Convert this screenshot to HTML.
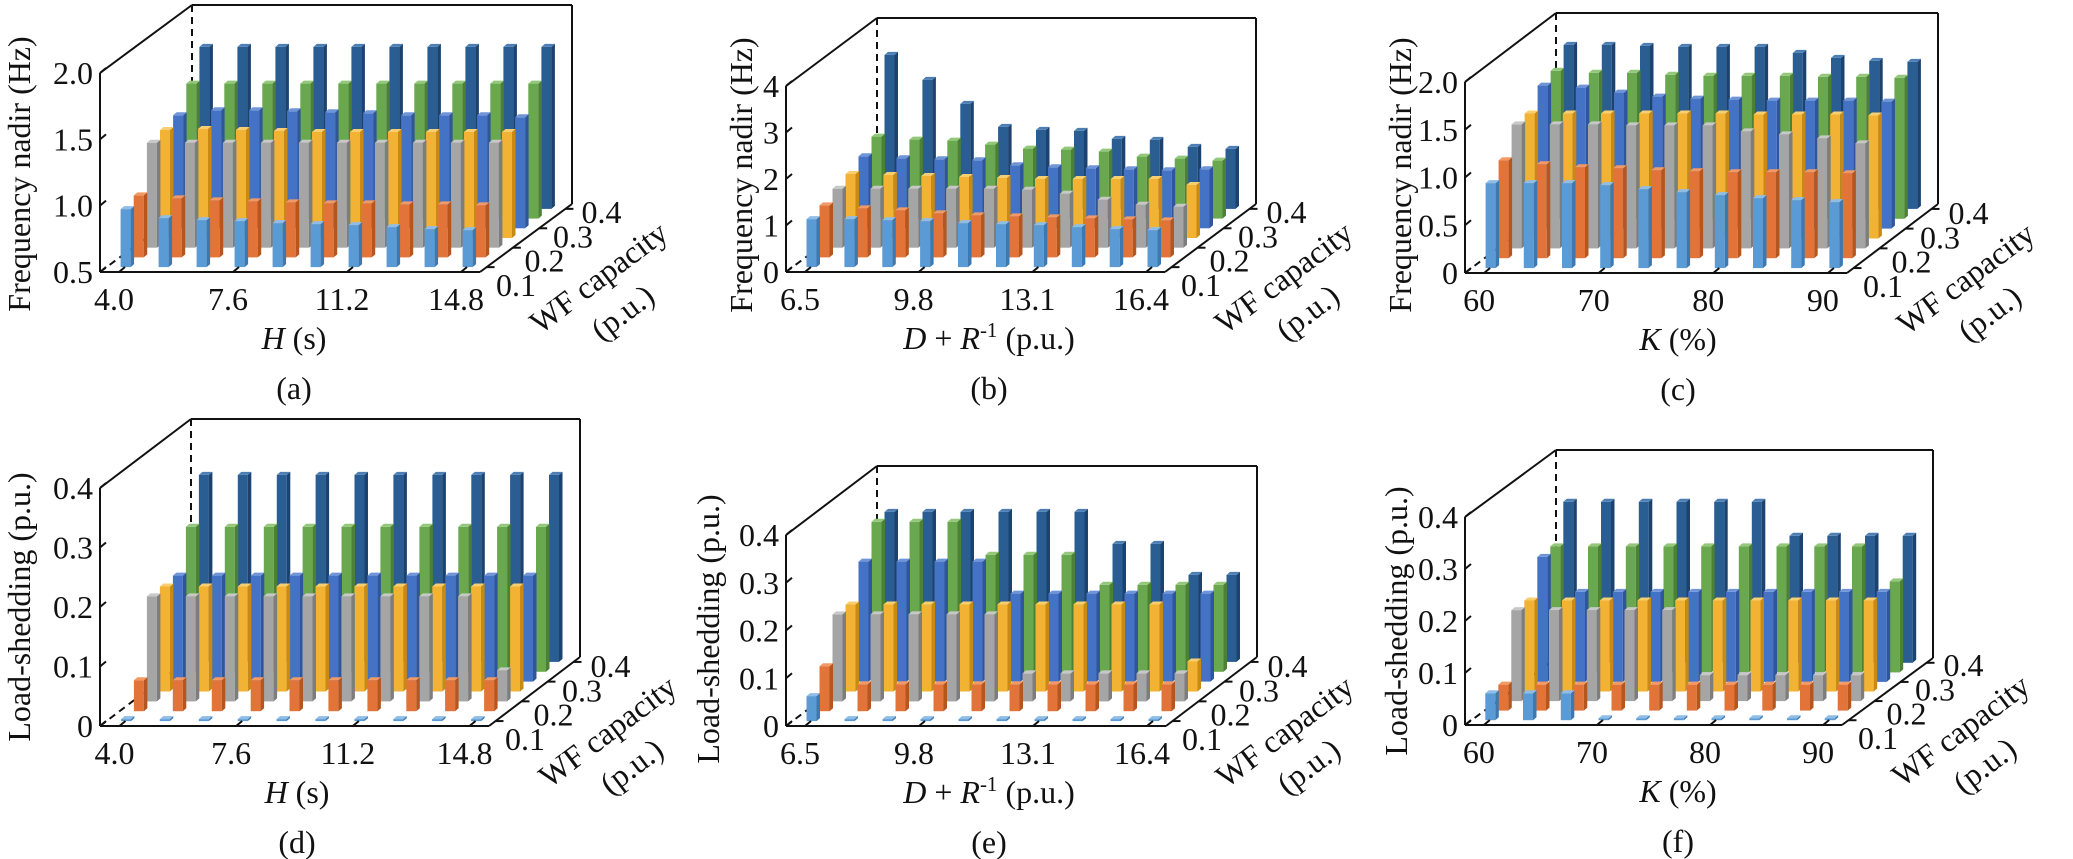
<!DOCTYPE html>
<html><head><meta charset="utf-8"><style>
html,body{margin:0;padding:0;background:#fff;}
svg{display:block;}
text{font-family:"Liberation Serif","DejaVu Serif",serif;fill:#111;}
</style></head><body>
<svg id="s" width="2073" height="859" viewBox="0 0 2073 859" xmlns="http://www.w3.org/2000/svg"></svg>
<script>
var C=[["#5b9bd5","#3d78b0","#8fbde6"],["#e2743a","#b5561f","#f29a66"],["#a5a5a5","#7d7d7d","#c8c8c8"],["#f2b233","#c88a12","#f8cf70"],["#4472c4","#2f559b","#6f95d8"],["#6aa84f","#4c8034","#93c77a"],["#2a5d91","#1c4370","#4d7fb5"]];
function rep(v){var a=[];for(var i=0;i<10;i++)a.push(v);return a;}
var FS=32;
var P=[
{ox:100,oy:272,W:380,H:199,dx:92,dy:68,yt:["0.5","1.0","1.5","2.0"],xl:["4.0","7.6","11.2","14.8"],
 xt:'<tspan font-style="italic">H</tspan> (s)',yT:"Frequency nadir (Hz)",ytx:20,yty:174,sub:"(a)",sx:294,
 h:[[58,49,47,46,44,43,42,40,38,37],[62,59,57,56,55,54,54,53,53,52],rep(105),[108,109,108,107,106,106,106,106,106,106],[113,118,118,117,116,115,113,113,113,111],rep(135),rep(162)]},
{ox:786,oy:272,W:379,H:186,dx:91,dy:68,yt:["0","1","2","3","4"],xl:["6.5","9.8","13.1","16.4"],
 xt:'<tspan font-style="italic">D</tspan> + <tspan font-style="italic">R</tspan><tspan dy="-12" font-size="21">-1</tspan><tspan dy="12"> (p.u.)</tspan>',yT:"Frequency nadir (Hz)",ytx:742,yty:175,sub:"(b)",sx:989,
 h:[[48,48,47,46,44,43,42,40,38,37],[52,49,47,44,42,41,40,39,38,37],[59,59,59,59,59,58,54,48,43,41],[64,63,62,61,60,59,59,59,59,53],[72,70,69,68,63,61,60,59,58,59],[82,79,78,74,70,69,67,62,60,58],[154,129,105,82,79,78,70,69,62,60]]},
{ox:1465,oy:273,W:382,H:191,dx:91,dy:69,yt:["0","0.5","1.0","1.5","2.0"],xl:["60","70","80","90"],
 xt:'<tspan font-style="italic">K</tspan> (%)',yT:"Frequency nadir (Hz)",ytx:1401,yty:175,sub:"(c)",sx:1678,
 h:[[85,85,85,83,79,76,73,70,68,66],[98,94,91,90,88,87,86,86,86,85],[124,124,124,123,123,123,117,114,110,105],[125,125,125,125,125,125,124,124,124,123],[143,141,136,132,130,129,128,128,128,127],[148,146,146,144,143,143,143,142,142,141],[164,164,163,162,162,162,156,151,148,147]]},
{ox:100,oy:726,W:389,H:238,dx:91,dy:69,yt:["0","0.1","0.2","0.3","0.4"],xl:["4.0","7.6","11.2","14.8"],
 xt:'<tspan font-style="italic">H</tspan> (s)',yT:"Load-shedding (p.u.)",ytx:20,yty:607,sub:"(d)",sx:297,
 h:[rep(2),rep(31),[105,105,105,105,105,105,105,105,105,31],rep(105),rep(106),rep(145),rep(187)]},
{ox:786,oy:726,W:380,H:191,dx:91,dy:69,yt:["0","0.1","0.2","0.3","0.4"],xl:["6.5","9.8","13.1","16.4"],
 xt:'<tspan font-style="italic">D</tspan> + <tspan font-style="italic">R</tspan><tspan dy="-12" font-size="21">-1</tspan><tspan dy="12"> (p.u.)</tspan>',yT:"Load-shedding (p.u.)",ytx:709,yty:629,sub:"(e)",sx:989,
 h:[[25,2,2,2,2,2,2,2,2,2],[45,27,27,27,27,27,27,27,27,27],[87,87,87,87,87,28,28,28,28,28],[87,87,87,87,87,87,87,87,87,30],[120,120,120,120,88,88,88,88,88,88],[150,150,150,117,117,117,87,87,87,87],[150,150,150,150,150,150,118,118,87,87]]},
{ox:1465,oy:725,W:377,H:208,dx:91,dy:67,yt:["0","0.1","0.2","0.3","0.4"],xl:["60","70","80","90"],
 xt:'<tspan font-style="italic">K</tspan> (%)',yT:"Load-shedding (p.u.)",ytx:1397,yty:621,sub:"(f)",sx:1678,
 h:[[27,27,27,2,2,2,2,2,2,2],rep(26),[91,91,91,91,91,26,26,26,26,26],rep(91),[125,90,90,90,90,90,90,90,90,90],[126,126,126,126,126,126,126,126,126,91],[161,161,161,161,161,161,127,127,127,127]]}
];
var out="";
function L(x1,y1,x2,y2,ex){out+='<line x1="'+x1+'" y1="'+y1+'" x2="'+x2+'" y2="'+y2+'" stroke="#111" stroke-width="2" '+(ex||'')+'/>';}
function poly(pts,f){out+='<polygon points="'+pts.map(function(p){return p[0].toFixed(1)+','+p[1].toFixed(1)}).join(' ')+'" fill="'+f+'"/>';}
P.forEach(function(p){
 var ox=p.ox,oy=p.oy,W=p.W,H=p.H,dx=p.dx,dy=p.dy,fx=ox+W;
 L(ox,oy-H,ox+dx,oy-H-dy);
 L(ox+dx,oy-H-dy,fx+dx,oy-H-dy);
 L(fx+dx,oy-H-dy,fx+dx,oy-dy);
 L(ox+dx,oy-H-dy,ox+dx,oy-dy,'stroke-dasharray="7,5" stroke-width="1.6"');
 L(ox,oy,ox+dx,oy-dy,'stroke-dasharray="7,5" stroke-width="1.6"');
 var cw=W/10,bw=10,sx=3.5,sy=3;
 for(var r=6;r>=0;r--){
  var xo=(r+0.5)*dx/7,yb=oy-(r+0.5)*dy/7;
  for(var i=0;i<10;i++){
   var h=p.h[r][i],x0=ox+(i+0.5)*cw-bw/2+xo,c=C[r];
   out+='<rect x="'+x0.toFixed(1)+'" y="'+(yb-h).toFixed(1)+'" width="'+bw+'" height="'+h+'" fill="'+c[0]+'"/>';
   poly([[x0+bw,yb],[x0+bw+sx,yb-sy],[x0+bw+sx,yb-h-sy],[x0+bw,yb-h]],c[1]);
   poly([[x0,yb-h],[x0+sx,yb-h-sy],[x0+bw+sx,yb-h-sy],[x0+bw,yb-h]],c[2]);
  }
 }
 L(ox,oy,ox,oy-H);
 L(ox,oy,fx,oy);
 L(fx,oy,fx+dx,oy-dy);
 var n=p.yt.length;
 for(var k=0;k<n;k++){var y=oy-H*k/(n-1);
  L(ox,y,ox+6,y-5,'stroke-width="1.6"');
  out+='<text x="'+(ox-7)+'" y="'+(y+11)+'" font-size="'+FS+'" text-anchor="end">'+p.yt[k]+'</text>';}
 [0,3,6,9].forEach(function(ci,k){var x=ox+(ci+0.5)*cw;
  L(x,oy,x+6,oy-5,'stroke-width="1.6"');
  out+='<text x="'+(x-5)+'" y="'+(oy+38)+'" font-size="'+FS+'" text-anchor="middle">'+p.xl[k]+'</text>';});
 ["0.1","0.2","0.3","0.4"].forEach(function(t,k){
  var tx=fx+(k*2+0.5)*dx/7, ty=oy-(k*2+0.5)*dy/7;
  L(tx,ty,tx+8,ty,'stroke-width="1.6"');
  out+='<text x="'+(fx+36+k*28.5)+'" y="'+(oy+24-k*24.3)+'" font-size="'+FS+'" text-anchor="middle">'+t+'</text>';});
 out+='<text transform="translate('+(fx+119)+','+(oy+6)+') rotate(-37)" x="0" y="10" font-size="'+FS+'" text-anchor="middle">WF capacity</text>';
 out+='<text transform="translate('+(fx+143)+','+(oy+41)+') rotate(-37)" x="0" y="10" font-size="'+FS+'" text-anchor="middle">(p.u.)</text>';
 out+='<text x="'+p.sx+'" y="'+(oy+77)+'" font-size="'+FS+'" text-anchor="middle">'+p.xt+'</text>';
 out+='<text x="'+p.sx+'" y="'+(oy+127)+'" font-size="'+FS+'" text-anchor="middle">'+p.sub+'</text>';
 out+='<text transform="translate('+p.ytx+','+p.yty+') rotate(-90)" x="0" y="10" font-size="'+FS+'" text-anchor="middle">'+p.yT+'</text>';
});
document.getElementById("s").innerHTML=out;
</script>
</body></html>
